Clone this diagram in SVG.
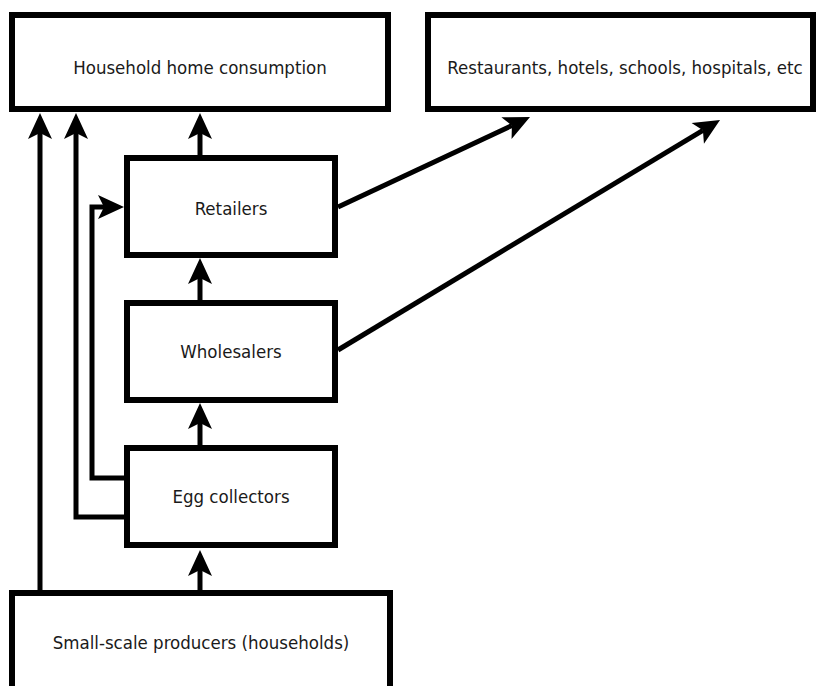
<svg xmlns="http://www.w3.org/2000/svg" width="817" height="686" viewBox="0 0 817 686">
<defs>
<style>
.box{fill:#fff;stroke:#000;stroke-width:6}
.lbl{font-family:"DejaVu Sans Condensed","DejaVu Sans",sans-serif;font-stretch:condensed;font-size:18.5px;fill:#1a1a1a;text-anchor:middle}
.edge{fill:none;stroke:#000;stroke-width:5;stroke-linejoin:miter;stroke-linecap:butt;marker-end:url(#ah)}
</style>
<marker id="ah" markerUnits="userSpaceOnUse" markerWidth="30" markerHeight="30" viewBox="-2 -14 30 28" refX="6" refY="0" orient="auto">
<path d="M0,-12 L26,0 L0,12 L6,0 Z" fill="#000"/>
</marker>
</defs>
<rect width="817" height="686" fill="#fff"/>
<g id="connectors">
<path class="edge" d="M200,155 L200,133"/>
<path class="edge" d="M40,590 L40,133"/>
<path class="edge" d="M124,517 L76,517 L76,133"/>
<path class="edge" d="M124,478 L92,478 L92,207 L104,207"/>
<path class="edge" d="M200,300 L200,278"/>
<path class="edge" d="M200,445 L200,423"/>
<path class="edge" d="M200,590 L200,570"/>
<path class="edge" d="M338,207 L511.9,125.5"/>
<path class="edge" d="M338,350 L702.9,130.3"/>
</g>
<g id="household">
<rect class="box" x="12" y="15" width="376" height="94"/>
<text class="lbl" x="200" y="74">Household home consumption</text>
</g>
<g id="institutions">
<rect class="box" x="428" y="15" width="385" height="94"/>
<text class="lbl" x="625" y="74">Restaurants, hotels, schools, hospitals, etc</text>
</g>
<g id="retailers">
<rect class="box" x="127" y="158" width="208" height="97"/>
<text class="lbl" x="231" y="215">Retailers</text>
</g>
<g id="wholesalers">
<rect class="box" x="127" y="303" width="208" height="97"/>
<text class="lbl" x="231" y="358">Wholesalers</text>
</g>
<g id="collectors">
<rect class="box" x="127" y="448" width="208" height="97"/>
<text class="lbl" x="231" y="503">Egg collectors</text>
</g>
<g id="producers">
<rect class="box" x="12" y="593" width="378" height="110"/>
<text class="lbl" x="201" y="649">Small-scale producers (households)</text>
</g>
</svg>
